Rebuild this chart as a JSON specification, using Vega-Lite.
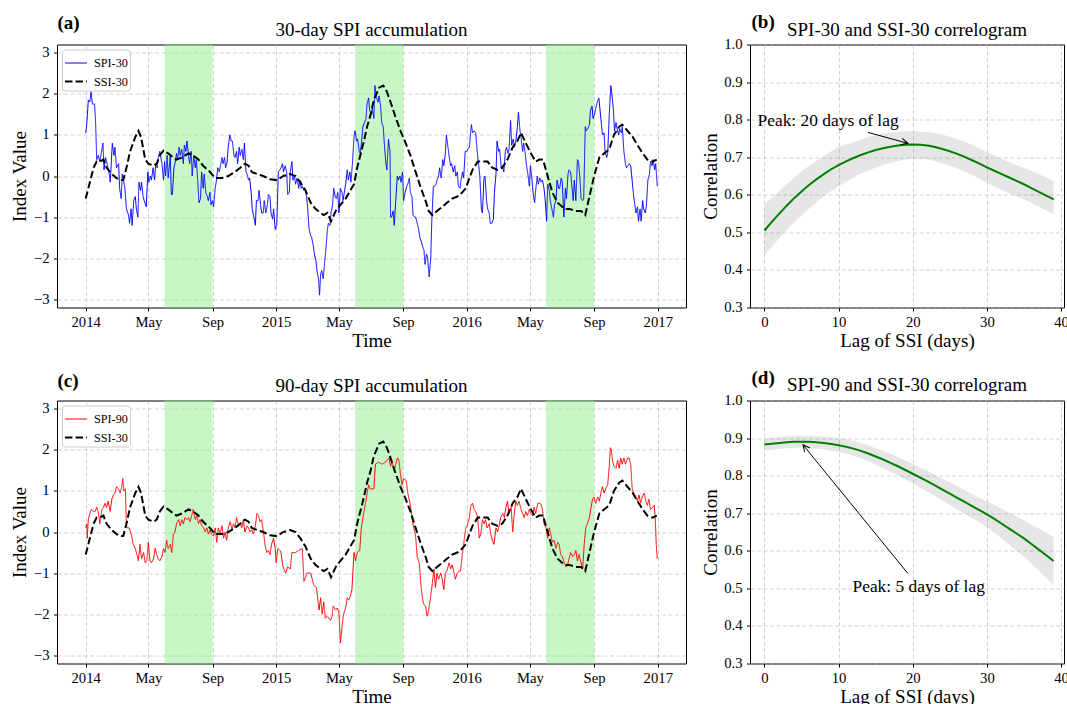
{
"$schema": "https://vega.github.io/schema/vega-lite/v6.json",
"background": "white",
"padding": {"left": 9, "top": 12.5, "right": 0, "bottom": 0},
"config": {
 "font": "Liberation Serif",
 "view": {"stroke": "#000000", "strokeWidth": 1},
 "axis": {"domain": false, "ticks": true, "tickColor": "#000000", "tickSize": 3.5, "labelFont": "Liberation Serif", "labelFontSize": 14.7, "labelColor": "#000000", "labelOverlap": false, "titleFont": "Liberation Serif", "titleFontSize": 19, "titleFontWeight": "normal", "titleColor": "#000000", "grid": true, "gridColor": "#b0b0b0", "gridDash": [4, 2.5], "gridOpacity": 0.7, "gridWidth": 0.8},
 "text": {"font": "Liberation Serif", "color": "#000000"},
 "legend": {"orient": "top-left", "offset": 5, "fillColor": "#ffffff", "strokeColor": "#cccccc", "cornerRadius": 3, "padding": 2, "rowPadding": -4, "labelFont": "Liberation Serif", "labelFontSize": 12.2, "labelColor": "#000000", "symbolType": "stroke", "symbolSize": 484, "labelOffset": 6}
},
"datasets": {
 "summer": [{"day": 151, "end": 243}, {"day": 516, "end": 608}, {"day": 882, "end": 974}],
 "spi30": [
{"day":0,"value":1.05},{"day":2,"value":1.25},{"day":5,"value":1.85},{"day":8,"value":1.8},{"day":10,"value":2.05},{"day":13,"value":1.75},{"day":17,"value":1.75},{"day":19,"value":1.3},{"day":21,"value":0.4},{"day":24,"value":0.5},{"day":27,"value":0.35},{"day":31,"value":0.65},{"day":33,"value":0.8},{"day":35,"value":0.15},{"day":38,"value":0.45},{"day":42,"value":0.25},{"day":45,"value":0.05},{"day":47,"value":-0.15},{"day":51,"value":0.8},{"day":54,"value":0.5},{"day":56,"value":0.7},{"day":59,"value":0.2},{"day":63,"value":0.3},{"day":65,"value":-0.3},{"day":68,"value":-0.55},{"day":70,"value":0.05},{"day":73,"value":-0.15},{"day":75,"value":-0.3},{"day":78,"value":-0.8},{"day":82,"value":-0.95},{"day":84,"value":-1.15},{"day":87,"value":-0.8},{"day":89,"value":-1.2},{"day":92,"value":-0.6},{"day":95,"value":-0.5},{"day":97,"value":-0.8},{"day":100,"value":-1.0},{"day":102,"value":-0.15},{"day":105,"value":-0.35},{"day":107,"value":-0.15},{"day":110,"value":-0.5},{"day":112,"value":-0.6},{"day":116,"value":-0.75},{"day":119,"value":0.1},{"day":121,"value":-0.15},{"day":124,"value":0.0},{"day":126,"value":-0.1},{"day":129,"value":0.2},{"day":132,"value":-0.1},{"day":134,"value":0.3},{"day":137,"value":0.2},{"day":139,"value":0.45},{"day":142,"value":0.6},{"day":146,"value":0.3},{"day":149,"value":-0.1},{"day":151,"value":0.35},{"day":153,"value":0.0},{"day":156,"value":0.5},{"day":158,"value":-0.05},{"day":162,"value":0.5},{"day":164,"value":-0.45},{"day":166,"value":-0.45},{"day":169,"value":0.2},{"day":171,"value":0.3},{"day":174,"value":0.55},{"day":176,"value":0.4},{"day":179,"value":0.7},{"day":181,"value":0.5},{"day":184,"value":0.65},{"day":187,"value":0.3},{"day":189,"value":0.75},{"day":192,"value":0.6},{"day":194,"value":0.85},{"day":197,"value":0.5},{"day":199,"value":0.3},{"day":202,"value":0.6},{"day":204,"value":0.0},{"day":207,"value":0.5},{"day":210,"value":0.2},{"day":212,"value":0.4},{"day":215,"value":-0.2},{"day":217,"value":-0.65},{"day":220,"value":-0.55},{"day":222,"value":0.1},{"day":225,"value":-0.3},{"day":227,"value":0.05},{"day":230,"value":-0.4},{"day":233,"value":-0.5},{"day":235,"value":-0.6},{"day":238,"value":-0.4},{"day":240,"value":-0.7},{"day":243,"value":-0.6},{"day":245,"value":-0.75},{"day":248,"value":-0.3},{"day":250,"value":-0.15},{"day":253,"value":0.2},{"day":256,"value":0.1},{"day":258,"value":0.25},{"day":261,"value":0.45},{"day":263,"value":0.3},{"day":266,"value":0.45},{"day":268,"value":0.2},{"day":271,"value":0.35},{"day":273,"value":0.7},{"day":276,"value":1.0},{"day":279,"value":0.85},{"day":281,"value":0.85},{"day":284,"value":0.5},{"day":286,"value":0.45},{"day":289,"value":0.6},{"day":291,"value":0.3},{"day":294,"value":0.7},{"day":296,"value":0.5},{"day":299,"value":0.65},{"day":302,"value":0.4},{"day":304,"value":0.8},{"day":307,"value":0.1},{"day":309,"value":0.05},{"day":312,"value":-0.1},{"day":314,"value":-0.05},{"day":317,"value":-0.4},{"day":319,"value":-0.8},{"day":322,"value":-1.0},{"day":325,"value":-1.2},{"day":327,"value":-0.6},{"day":330,"value":-0.6},{"day":332,"value":-0.35},{"day":335,"value":-0.7},{"day":337,"value":-0.9},{"day":340,"value":-0.9},{"day":342,"value":-0.6},{"day":345,"value":-0.9},{"day":348,"value":-0.7},{"day":350,"value":-0.45},{"day":353,"value":-0.5},{"day":355,"value":-0.9},{"day":358,"value":-1.05},{"day":360,"value":-0.8},{"day":363,"value":-1.3},{"day":366,"value":-1.2},
{"day":369,"value":0.1},{"day":372,"value":0.15},{"day":374,"value":0.2},{"day":377,"value":0.3},{"day":379,"value":0.1},{"day":382,"value":0.25},{"day":385,"value":0.1},{"day":387,"value":-0.45},{"day":390,"value":-0.4},{"day":392,"value":0.1},{"day":395,"value":0.35},{"day":397,"value":-0.1},{"day":400,"value":0.0},{"day":402,"value":-0.2},{"day":405,"value":-0.05},{"day":408,"value":-0.3},{"day":410,"value":-0.1},{"day":413,"value":-0.3},{"day":415,"value":-0.25},{"day":418,"value":-0.35},{"day":420,"value":-0.3},{"day":423,"value":-0.5},{"day":425,"value":-0.75},{"day":428,"value":-1.3},{"day":431,"value":-1.45},{"day":433,"value":-1.5},{"day":436,"value":-1.7},{"day":438,"value":-1.9},{"day":441,"value":-2.05},{"day":443,"value":-2.3},{"day":446,"value":-2.5},{"day":448,"value":-2.9},{"day":450,"value":-2.4},{"day":452,"value":-2.3},{"day":455,"value":-2.5},{"day":457,"value":-2.2},{"day":460,"value":-1.8},{"day":463,"value":-1.3},{"day":465,"value":-1.15},{"day":468,"value":-1.2},{"day":470,"value":-0.9},{"day":473,"value":-0.7},{"day":475,"value":-0.3},{"day":478,"value":-0.5},{"day":480,"value":-0.55},{"day":483,"value":-0.4},{"day":485,"value":-0.9},{"day":488,"value":-0.3},{"day":491,"value":-0.4},{"day":493,"value":-0.6},{"day":496,"value":-0.35},{"day":498,"value":-0.2},{"day":501,"value":0.15},{"day":503,"value":-0.1},{"day":506,"value":0.1},{"day":508,"value":-0.15},{"day":511,"value":0.3},{"day":514,"value":0.95},{"day":516,"value":1.1},{"day":519,"value":0.85},{"day":521,"value":0.9},{"day":524,"value":0.6},{"day":526,"value":0.55},{"day":529,"value":0.9},{"day":531,"value":1.2},{"day":534,"value":1.3},{"day":537,"value":1.4},{"day":539,"value":1.75},{"day":542,"value":1.9},{"day":544,"value":1.6},{"day":547,"value":1.5},{"day":549,"value":1.65},{"day":552,"value":1.4},{"day":554,"value":2.2},{"day":557,"value":1.9},{"day":560,"value":1.8},{"day":562,"value":1.95},{"day":565,"value":1.7},{"day":567,"value":1.3},{"day":570,"value":1.2},{"day":572,"value":0.8},{"day":575,"value":0.3},{"day":577,"value":0.15},{"day":580,"value":0.9},{"day":583,"value":0.6},{"day":584,"value":-1.0},{"day":586,"value":-1.0},{"day":589,"value":-0.85},{"day":591,"value":-1.2},{"day":594,"value":-0.6},{"day":597,"value":0.0},{"day":599,"value":-0.1},{"day":602,"value":0.0},{"day":604,"value":-0.15},{"day":607,"value":0.1},{"day":609,"value":-0.6},{"day":612,"value":-0.4},{"day":615,"value":-0.25},{"day":617,"value":-0.2},{"day":620,"value":-0.05},{"day":622,"value":-0.4},{"day":625,"value":-0.5},{"day":627,"value":-0.95},{"day":630,"value":-1.0},{"day":632,"value":-1.0},{"day":635,"value":-1.15},{"day":638,"value":-1.3},{"day":640,"value":-1.5},{"day":643,"value":-1.6},{"day":645,"value":-1.7},{"day":648,"value":-1.8},{"day":650,"value":-2.15},{"day":653,"value":-1.9},{"day":655,"value":-2.0},{"day":658,"value":-2.45},{"day":661,"value":-2.0},{"day":663,"value":-1.1},{"day":666,"value":-0.25},{"day":668,"value":-0.25},{"day":671,"value":-0.2},{"day":673,"value":-0.1},{"day":676,"value":0.0},{"day":678,"value":0.2},{"day":681,"value":-0.05},{"day":684,"value":0.4},{"day":686,"value":0.25},{"day":689,"value":0.55},{"day":691,"value":1.0},{"day":694,"value":0.7},{"day":696,"value":0.5},{"day":699,"value":0.25},{"day":701,"value":0.3},{"day":704,"value":0.1},{"day":707,"value":0.25},{"day":709,"value":0.0},{"day":712,"value":0.1},{"day":714,"value":-0.25},{"day":717,"value":-0.3},{"day":719,"value":-0.1},{"day":722,"value":0.1},{"day":724,"value":-0.05},{"day":727,"value":0.6},{"day":730,"value":0.6},{"day":732,"value":0.65},{"day":735,"value":0.7},{"day":737,"value":1.0},
{"day":739,"value":1.25},{"day":741,"value":1.05},{"day":744,"value":1.1},{"day":747,"value":1.05},{"day":750,"value":0.6},{"day":752,"value":0.35},{"day":755,"value":0.0},{"day":758,"value":-0.8},{"day":760,"value":-0.9},{"day":763,"value":-0.05},{"day":765,"value":0.0},{"day":768,"value":-0.6},{"day":770,"value":-0.8},{"day":773,"value":-0.9},{"day":775,"value":-1.15},{"day":778,"value":-1.15},{"day":781,"value":-1.05},{"day":783,"value":-0.4},{"day":786,"value":0.05},{"day":788,"value":0.85},{"day":791,"value":0.6},{"day":793,"value":0.65},{"day":796,"value":0.2},{"day":798,"value":0.25},{"day":801,"value":0.1},{"day":804,"value":0.6},{"day":806,"value":0.7},{"day":809,"value":0.55},{"day":811,"value":0.65},{"day":814,"value":1.35},{"day":816,"value":0.75},{"day":819,"value":0.9},{"day":821,"value":0.7},{"day":824,"value":0.85},{"day":827,"value":1.2},{"day":829,"value":1.55},{"day":832,"value":1.1},{"day":834,"value":0.95},{"day":837,"value":0.6},{"day":839,"value":0.8},{"day":842,"value":0.55},{"day":844,"value":0.3},{"day":847,"value":0.05},{"day":850,"value":-0.25},{"day":852,"value":0.25},{"day":855,"value":-0.1},{"day":857,"value":-0.4},{"day":860,"value":-0.65},{"day":862,"value":-0.35},{"day":865,"value":0.0},{"day":867,"value":-0.2},{"day":870,"value":-0.05},{"day":873,"value":-0.15},{"day":875,"value":-0.1},{"day":878,"value":-0.3},{"day":880,"value":-0.55},{"day":883,"value":-1.1},{"day":885,"value":-0.2},{"day":888,"value":-0.35},{"day":890,"value":-0.6},{"day":893,"value":-0.8},{"day":896,"value":-1.0},{"day":898,"value":-0.7},{"day":901,"value":-0.6},{"day":903,"value":-0.1},{"day":906,"value":-0.3},{"day":908,"value":-0.3},{"day":911,"value":-0.05},{"day":913,"value":-0.15},{"day":916,"value":-1.0},{"day":919,"value":-0.3},{"day":921,"value":-0.55},{"day":924,"value":0.05},{"day":926,"value":0.15},{"day":929,"value":0.1},{"day":931,"value":-0.2},{"day":934,"value":-0.6},{"day":936,"value":-0.1},{"day":939,"value":-0.6},{"day":942,"value":0.4},{"day":944,"value":0.35},{"day":947,"value":-0.1},{"day":949,"value":-0.55},{"day":952,"value":-0.6},{"day":954,"value":-0.55},{"day":957,"value":1.2},{"day":959,"value":1.1},{"day":962,"value":1.15},{"day":965,"value":1.25},{"day":967,"value":1.6},{"day":970,"value":1.7},{"day":972,"value":1.4},{"day":975,"value":1.5},{"day":977,"value":1.65},{"day":980,"value":1.8},{"day":983,"value":1.9},{"day":985,"value":1.65},{"day":988,"value":1.25},{"day":990,"value":1.0},{"day":993,"value":1.05},{"day":995,"value":0.6},{"day":998,"value":0.45},{"day":1000,"value":0.55},{"day":1003,"value":1.5},{"day":1006,"value":2.2},{"day":1008,"value":2.0},{"day":1011,"value":1.6},{"day":1013,"value":1.1},{"day":1016,"value":1.3},{"day":1018,"value":1.15},{"day":1021,"value":1.0},{"day":1023,"value":1.15},{"day":1026,"value":1.05},{"day":1028,"value":1.2},{"day":1031,"value":0.6},{"day":1034,"value":0.3},{"day":1036,"value":0.2},{"day":1039,"value":0.25},{"day":1041,"value":0.3},{"day":1044,"value":0.25},{"day":1046,"value":0.0},{"day":1049,"value":-0.4},{"day":1051,"value":-0.6},{"day":1054,"value":-0.9},{"day":1057,"value":-0.75},{"day":1059,"value":-1.1},{"day":1062,"value":-0.8},{"day":1064,"value":-1.1},{"day":1067,"value":-0.6},{"day":1069,"value":-0.8},{"day":1072,"value":-0.9},{"day":1074,"value":-0.75},{"day":1077,"value":-0.1},{"day":1080,"value":0.05},{"day":1082,"value":0.35},{"day":1085,"value":0.25},{"day":1087,"value":0.4},{"day":1090,"value":0.15},{"day":1092,"value":0.3},{"day":1095,"value":-0.25}
 ],
 "ssi30": [
{"day":0,"value":-0.55},{"day":8,"value":-0.15},{"day":15,"value":0.2},{"day":21,"value":0.35},{"day":27,"value":0.35},{"day":34,"value":0.4},{"day":40,"value":0.2},{"day":50,"value":0.05},{"day":59,"value":-0.05},{"day":68,"value":-0.1},{"day":72,"value":-0.1},{"day":79,"value":0.25},{"day":85,"value":0.6},{"day":95,"value":0.95},{"day":101,"value":1.1},{"day":106,"value":0.95},{"day":114,"value":0.4},{"day":120,"value":0.3},{"day":130,"value":0.25},{"day":136,"value":0.3},{"day":142,"value":0.5},{"day":149,"value":0.62},{"day":158,"value":0.55},{"day":168,"value":0.45},{"day":174,"value":0.4},{"day":184,"value":0.45},{"day":197,"value":0.55},{"day":206,"value":0.5},{"day":216,"value":0.4},{"day":225,"value":0.25},{"day":238,"value":0.1},{"day":248,"value":-0.05},{"day":261,"value":-0.05},{"day":273,"value":0.0},{"day":286,"value":0.1},{"day":296,"value":0.2},{"day":305,"value":0.3},{"day":312,"value":0.25},{"day":318,"value":0.1},{"day":328,"value":0.05},{"day":340,"value":0.0},{"day":353,"value":-0.08},{"day":366,"value":-0.1},{"day":379,"value":0.0},{"day":392,"value":0.05},{"day":402,"value":0.0},{"day":411,"value":-0.15},{"day":421,"value":-0.35},{"day":431,"value":-0.65},{"day":440,"value":-0.8},{"day":450,"value":-0.9},{"day":456,"value":-0.95},{"day":463,"value":-0.9},{"day":470,"value":-1.1},{"day":479,"value":-0.85},{"day":488,"value":-0.7},{"day":498,"value":-0.55},{"day":507,"value":-0.35},{"day":514,"value":-0.2},{"day":520,"value":0.2},{"day":526,"value":0.5},{"day":533,"value":0.85},{"day":539,"value":1.2},{"day":546,"value":1.5},{"day":552,"value":1.85},{"day":562,"value":2.15},{"day":570,"value":2.2},{"day":577,"value":2.05},{"day":584,"value":1.8},{"day":593,"value":1.45},{"day":603,"value":1.1},{"day":613,"value":0.8},{"day":622,"value":0.5},{"day":632,"value":0.1},{"day":641,"value":-0.25},{"day":651,"value":-0.6},{"day":657,"value":-0.85},{"day":664,"value":-0.95},{"day":673,"value":-0.85},{"day":683,"value":-0.75},{"day":692,"value":-0.65},{"day":702,"value":-0.55},{"day":712,"value":-0.5},{"day":718,"value":-0.45},{"day":728,"value":-0.3},{"day":735,"value":-0.05},{"day":741,"value":0.15},{"day":751,"value":0.35},{"day":760,"value":0.35},{"day":770,"value":0.35},{"day":779,"value":0.2},{"day":789,"value":0.15},{"day":798,"value":0.2},{"day":808,"value":0.4},{"day":818,"value":0.7},{"day":827,"value":0.85},{"day":834,"value":1.05},{"day":843,"value":0.8},{"day":853,"value":0.55},{"day":862,"value":0.35},{"day":869,"value":0.4},{"day":876,"value":0.4},{"day":885,"value":0.0},{"day":894,"value":-0.4},{"day":904,"value":-0.65},{"day":917,"value":-0.8},{"day":926,"value":-0.8},{"day":939,"value":-0.85},{"day":949,"value":-0.85},{"day":957,"value":-0.95},{"day":965,"value":-0.5},{"day":974,"value":0.0},{"day":984,"value":0.45},{"day":993,"value":0.55},{"day":1003,"value":0.65},{"day":1012,"value":1.0},{"day":1022,"value":1.2},{"day":1028,"value":1.25},{"day":1038,"value":1.1},{"day":1048,"value":0.95},{"day":1057,"value":0.75},{"day":1067,"value":0.55},{"day":1076,"value":0.4},{"day":1086,"value":0.35},{"day":1094,"value":0.4}
 ],
 "spi90": [
{"day":0,"value":0.1},{"day":2,"value":0.2},{"day":3,"value":-0.15},{"day":5,"value":0.3},{"day":8,"value":0.45},{"day":11,"value":0.55},{"day":15,"value":0.5},{"day":18,"value":0.5},{"day":21,"value":0.6},{"day":24,"value":0.5},{"day":27,"value":0.2},{"day":31,"value":0.55},{"day":34,"value":0.6},{"day":37,"value":0.7},{"day":40,"value":0.6},{"day":43,"value":0.75},{"day":47,"value":0.5},{"day":50,"value":0.8},{"day":53,"value":0.9},{"day":56,"value":0.95},{"day":59,"value":1.1},{"day":63,"value":1.05},{"day":66,"value":0.95},{"day":69,"value":1.1},{"day":71,"value":1.3},{"day":73,"value":1.0},{"day":76,"value":1.05},{"day":78,"value":0.15},{"day":80,"value":0.1},{"day":83,"value":0.1},{"day":86,"value":0.0},{"day":88,"value":-0.1},{"day":91,"value":-0.3},{"day":95,"value":-0.4},{"day":98,"value":-0.55},{"day":101,"value":-0.7},{"day":104,"value":-0.3},{"day":107,"value":-0.65},{"day":111,"value":-0.5},{"day":114,"value":-0.75},{"day":117,"value":-0.7},{"day":120,"value":-0.25},{"day":123,"value":-0.7},{"day":126,"value":-0.75},{"day":130,"value":-0.65},{"day":133,"value":-0.4},{"day":136,"value":-0.55},{"day":139,"value":-0.65},{"day":142,"value":-0.7},{"day":146,"value":-0.6},{"day":149,"value":-0.4},{"day":152,"value":-0.5},{"day":155,"value":-0.2},{"day":158,"value":-0.4},{"day":162,"value":-0.3},{"day":165,"value":-0.5},{"day":168,"value":-0.05},{"day":171,"value":0.0},{"day":174,"value":0.2},{"day":178,"value":0.3},{"day":181,"value":0.15},{"day":184,"value":0.3},{"day":187,"value":0.2},{"day":190,"value":0.35},{"day":194,"value":0.3},{"day":197,"value":0.35},{"day":200,"value":0.25},{"day":203,"value":0.4},{"day":206,"value":0.55},{"day":210,"value":0.3},{"day":213,"value":0.4},{"day":216,"value":0.2},{"day":219,"value":0.3},{"day":222,"value":0.15},{"day":226,"value":0.1},{"day":229,"value":0.0},{"day":232,"value":0.1},{"day":235,"value":-0.05},{"day":238,"value":0.05},{"day":241,"value":-0.05},{"day":245,"value":-0.1},{"day":248,"value":0.1},{"day":251,"value":-0.25},{"day":254,"value":0.1},{"day":257,"value":-0.05},{"day":261,"value":0.15},{"day":264,"value":-0.15},{"day":267,"value":0.0},{"day":270,"value":-0.2},{"day":273,"value":0.1},{"day":277,"value":0.25},{"day":280,"value":0.05},{"day":283,"value":0.2},{"day":286,"value":0.1},{"day":289,"value":0.35},{"day":293,"value":0.15},{"day":296,"value":0.2},{"day":299,"value":0.1},{"day":302,"value":0.3},{"day":305,"value":0.0},{"day":309,"value":0.15},{"day":312,"value":0.1},{"day":315,"value":0.0},{"day":318,"value":0.05},{"day":321,"value":-0.05},{"day":325,"value":0.15},{"day":328,"value":0.45},{"day":331,"value":0.4},{"day":334,"value":0.25},{"day":337,"value":0.3},{"day":340,"value":0.05},{"day":344,"value":-0.35},{"day":347,"value":-0.5},{"day":350,"value":-0.45},{"day":353,"value":-0.55},{"day":356,"value":-0.3},{"day":360,"value":-0.15},
{"day":363,"value":-0.4},{"day":365,"value":-0.75},{"day":368,"value":-0.4},{"day":372,"value":-0.45},{"day":374,"value":-0.5},{"day":378,"value":-0.85},{"day":383,"value":-1.0},{"day":387,"value":-0.85},{"day":392,"value":-0.9},{"day":395,"value":-0.5},{"day":402,"value":-0.5},{"day":408,"value":-0.45},{"day":415,"value":-0.4},{"day":418,"value":-1.2},{"day":424,"value":-1.0},{"day":431,"value":-1.0},{"day":437,"value":-1.3},{"day":442,"value":-1.35},{"day":447,"value":-1.9},{"day":450,"value":-1.6},{"day":453,"value":-2.0},{"day":456,"value":-1.7},{"day":459,"value":-2.1},{"day":462,"value":-2.05},{"day":466,"value":-2.1},{"day":469,"value":-2.15},{"day":472,"value":-2.05},{"day":474,"value":-1.8},{"day":479,"value":-1.9},{"day":482,"value":-1.85},{"day":485,"value":-1.95},{"day":488,"value":-2.7},{"day":491,"value":-2.3},{"day":494,"value":-2.0},{"day":498,"value":-1.85},{"day":501,"value":-1.6},{"day":504,"value":-1.65},{"day":507,"value":-1.55},{"day":510,"value":-1.4},{"day":514,"value":-0.5},{"day":517,"value":-0.7},{"day":520,"value":-0.5},{"day":525,"value":-0.45},{"day":528,"value":0.1},{"day":533,"value":0.5},{"day":538,"value":0.85},{"day":542,"value":1.15},{"day":545,"value":1.05},{"day":552,"value":1.05},{"day":555,"value":1.65},{"day":561,"value":1.7},{"day":568,"value":1.65},{"day":574,"value":1.7},{"day":581,"value":1.8},{"day":584,"value":1.6},{"day":587,"value":1.7},{"day":591,"value":1.5},{"day":597,"value":1.8},{"day":600,"value":1.75},{"day":603,"value":1.4},{"day":606,"value":1.15},{"day":609,"value":1.3},{"day":614,"value":1.25},{"day":617,"value":0.95},{"day":622,"value":0.65},{"day":627,"value":0.2},{"day":632,"value":-0.1},{"day":635,"value":-0.6},{"day":639,"value":-0.75},{"day":643,"value":-1.4},{"day":647,"value":-1.75},{"day":651,"value":-1.8},{"day":654,"value":-2.05},{"day":657,"value":-1.9},{"day":660,"value":-1.65},{"day":664,"value":-1.25},{"day":667,"value":-0.9},{"day":670,"value":-1.35},{"day":673,"value":-1.0},{"day":676,"value":-1.15},{"day":680,"value":-1.0},{"day":683,"value":-1.15},{"day":686,"value":-1.4},{"day":689,"value":-1.0},{"day":692,"value":-0.95},{"day":696,"value":-0.75},{"day":699,"value":-0.9},{"day":702,"value":-0.8},{"day":705,"value":-0.95},{"day":708,"value":-1.15},{"day":712,"value":-1.0},{"day":715,"value":-0.95},{"day":718,"value":-0.95},{"day":721,"value":-0.6},{"day":724,"value":-0.3},{"day":728,"value":0.1},
{"day":731,"value":0.15},{"day":735,"value":0.35},{"day":738,"value":0.65},{"day":741,"value":0.7},{"day":744,"value":0.55},{"day":747,"value":0.5},{"day":751,"value":0.35},{"day":754,"value":-0.15},{"day":757,"value":-0.05},{"day":760,"value":0.3},{"day":763,"value":0.2},{"day":766,"value":0.3},{"day":769,"value":0.1},{"day":773,"value":0.2},{"day":776,"value":-0.05},{"day":779,"value":-0.2},{"day":782,"value":-0.3},{"day":786,"value":0.1},{"day":789,"value":0.0},{"day":792,"value":0.15},{"day":795,"value":0.35},{"day":799,"value":0.45},{"day":802,"value":0.35},{"day":805,"value":0.6},{"day":808,"value":0.75},{"day":811,"value":0.45},{"day":815,"value":0.6},{"day":818,"value":0.0},{"day":821,"value":0.45},{"day":824,"value":0.75},{"day":827,"value":0.65},{"day":830,"value":0.75},{"day":834,"value":0.55},{"day":837,"value":0.45},{"day":840,"value":0.35},{"day":843,"value":0.5},{"day":846,"value":0.4},{"day":850,"value":0.55},{"day":853,"value":0.45},{"day":856,"value":0.4},{"day":859,"value":0.6},{"day":862,"value":0.45},{"day":866,"value":0.7},{"day":869,"value":0.7},{"day":872,"value":0.68},{"day":875,"value":0.55},{"day":878,"value":0.2},{"day":882,"value":0.1},{"day":885,"value":-0.15},{"day":888,"value":0.1},{"day":891,"value":-0.05},{"day":894,"value":-0.25},{"day":897,"value":-0.2},{"day":901,"value":-0.4},{"day":904,"value":-0.25},{"day":907,"value":-0.3},{"day":910,"value":-0.55},{"day":913,"value":-0.6},{"day":917,"value":-0.75},{"day":920,"value":-0.85},{"day":923,"value":-0.8},{"day":926,"value":-0.65},{"day":929,"value":-0.5},{"day":933,"value":-0.6},{"day":936,"value":-0.55},{"day":939,"value":-0.45},{"day":942,"value":-0.7},{"day":945,"value":-0.55},{"day":949,"value":-0.75},{"day":952,"value":-0.9},{"day":955,"value":-0.3},{"day":958,"value":0.1},{"day":961,"value":0.2},{"day":965,"value":0.35},{"day":968,"value":0.6},{"day":971,"value":0.8},{"day":974,"value":0.85},{"day":977,"value":0.7},{"day":981,"value":0.85},{"day":984,"value":0.75},{"day":987,"value":0.95},{"day":990,"value":1.1},{"day":993,"value":0.95},{"day":996,"value":1.05},{"day":1000,"value":1.15},{"day":1003,"value":1.6},{"day":1005,"value":2.05},{"day":1007,"value":2.0},{"day":1009,"value":1.75},{"day":1012,"value":1.6},{"day":1016,"value":1.55},{"day":1019,"value":1.75},{"day":1022,"value":1.55},{"day":1025,"value":1.8},{"day":1028,"value":1.65},{"day":1031,"value":1.8},{"day":1034,"value":1.65},{"day":1038,"value":1.8},{"day":1041,"value":1.8},{"day":1044,"value":1.65},{"day":1047,"value":1.05},{"day":1050,"value":0.95},{"day":1054,"value":0.85},{"day":1057,"value":0.75},{"day":1060,"value":0.9},{"day":1063,"value":0.7},{"day":1066,"value":0.85},{"day":1070,"value":0.95},{"day":1073,"value":0.75},{"day":1076,"value":0.65},{"day":1079,"value":0.8},{"day":1082,"value":0.55},{"day":1086,"value":0.6},{"day":1089,"value":0.65},{"day":1091,"value":0.35},{"day":1093,"value":-0.3},{"day":1095,"value":-0.65}
 ],
 "corr30": [
{"lag":0,"r":0.505,"lo":0.438,"hi":0.575},{"lag":1,"r":0.528,"lo":0.462,"hi":0.592},{"lag":2,"r":0.55,"lo":0.485,"hi":0.61},{"lag":3,"r":0.571,"lo":0.506,"hi":0.628},{"lag":4,"r":0.591,"lo":0.526,"hi":0.645},{"lag":5,"r":0.609,"lo":0.545,"hi":0.662},{"lag":6,"r":0.626,"lo":0.563,"hi":0.677},{"lag":7,"r":0.641,"lo":0.58,"hi":0.69},{"lag":8,"r":0.655,"lo":0.596,"hi":0.703},{"lag":9,"r":0.668,"lo":0.61,"hi":0.716},{"lag":10,"r":0.679,"lo":0.623,"hi":0.728},{"lag":11,"r":0.689,"lo":0.635,"hi":0.734},{"lag":12,"r":0.698,"lo":0.646,"hi":0.74},{"lag":13,"r":0.706,"lo":0.656,"hi":0.747},{"lag":14,"r":0.713,"lo":0.664,"hi":0.753},{"lag":15,"r":0.719,"lo":0.672,"hi":0.759},{"lag":16,"r":0.724,"lo":0.679,"hi":0.763},{"lag":17,"r":0.728,"lo":0.685,"hi":0.766},{"lag":18,"r":0.731,"lo":0.69,"hi":0.768},{"lag":19,"r":0.733,"lo":0.694,"hi":0.769},{"lag":20,"r":0.734,"lo":0.696,"hi":0.769},{"lag":21,"r":0.733,"lo":0.696,"hi":0.768},{"lag":22,"r":0.731,"lo":0.694,"hi":0.767},{"lag":23,"r":0.727,"lo":0.69,"hi":0.764},{"lag":24,"r":0.722,"lo":0.684,"hi":0.76},{"lag":25,"r":0.716,"lo":0.677,"hi":0.755},{"lag":26,"r":0.709,"lo":0.67,"hi":0.748},{"lag":27,"r":0.701,"lo":0.662,"hi":0.741},{"lag":28,"r":0.692,"lo":0.653,"hi":0.733},{"lag":29,"r":0.683,"lo":0.643,"hi":0.724},{"lag":30,"r":0.673,"lo":0.633,"hi":0.714},{"lag":31,"r":0.664,"lo":0.623,"hi":0.705},{"lag":32,"r":0.655,"lo":0.613,"hi":0.696},{"lag":33,"r":0.646,"lo":0.604,"hi":0.687},{"lag":34,"r":0.637,"lo":0.596,"hi":0.679},{"lag":35,"r":0.628,"lo":0.588,"hi":0.671},{"lag":36,"r":0.618,"lo":0.578,"hi":0.663},{"lag":37,"r":0.608,"lo":0.568,"hi":0.655},{"lag":38,"r":0.598,"lo":0.558,"hi":0.646},{"lag":39,"r":0.588,"lo":0.548,"hi":0.637}
 ],
 "corr90": [
{"lag":0,"r":0.883,"lo":0.867,"hi":0.899},{"lag":1,"r":0.885,"lo":0.869,"hi":0.901},{"lag":2,"r":0.887,"lo":0.871,"hi":0.903},{"lag":3,"r":0.889,"lo":0.873,"hi":0.905},{"lag":4,"r":0.89,"lo":0.874,"hi":0.906},{"lag":5,"r":0.89,"lo":0.874,"hi":0.906},{"lag":6,"r":0.89,"lo":0.874,"hi":0.906},{"lag":7,"r":0.889,"lo":0.872,"hi":0.906},{"lag":8,"r":0.887,"lo":0.87,"hi":0.904},{"lag":9,"r":0.884,"lo":0.866,"hi":0.902},{"lag":10,"r":0.881,"lo":0.863,"hi":0.899},{"lag":11,"r":0.877,"lo":0.858,"hi":0.896},{"lag":12,"r":0.872,"lo":0.852,"hi":0.892},{"lag":13,"r":0.866,"lo":0.846,"hi":0.886},{"lag":14,"r":0.859,"lo":0.838,"hi":0.88},{"lag":15,"r":0.851,"lo":0.829,"hi":0.873},{"lag":16,"r":0.843,"lo":0.82,"hi":0.866},{"lag":17,"r":0.834,"lo":0.81,"hi":0.858},{"lag":18,"r":0.825,"lo":0.801,"hi":0.849},{"lag":19,"r":0.815,"lo":0.79,"hi":0.84},{"lag":20,"r":0.805,"lo":0.779,"hi":0.831},{"lag":21,"r":0.795,"lo":0.768,"hi":0.822},{"lag":22,"r":0.785,"lo":0.757,"hi":0.813},{"lag":23,"r":0.774,"lo":0.746,"hi":0.802},{"lag":24,"r":0.763,"lo":0.734,"hi":0.792},{"lag":25,"r":0.752,"lo":0.722,"hi":0.782},{"lag":26,"r":0.741,"lo":0.71,"hi":0.772},{"lag":27,"r":0.73,"lo":0.698,"hi":0.762},{"lag":28,"r":0.719,"lo":0.687,"hi":0.751},{"lag":29,"r":0.708,"lo":0.675,"hi":0.741},{"lag":30,"r":0.697,"lo":0.663,"hi":0.731},{"lag":31,"r":0.685,"lo":0.648,"hi":0.722},{"lag":32,"r":0.672,"lo":0.632,"hi":0.712},{"lag":33,"r":0.659,"lo":0.617,"hi":0.701},{"lag":34,"r":0.646,"lo":0.601,"hi":0.691},{"lag":35,"r":0.633,"lo":0.585,"hi":0.681},{"lag":36,"r":0.618,"lo":0.566,"hi":0.67},{"lag":37,"r":0.603,"lo":0.547,"hi":0.659},{"lag":38,"r":0.588,"lo":0.528,"hi":0.648},{"lag":39,"r":0.573,"lo":0.509,"hi":0.637}
 ]
},
"columns": 2,
"spacing": {"row": 93, "column": 64},
"bounds": "flush",
"align": "each",
"resolve": {"scale": {"color": "independent", "strokeDash": "independent", "strokeWidth": "independent"}, "legend": {"color": "independent", "strokeDash": "independent", "strokeWidth": "independent"}},
"concat": [
 {
  "width": 629, "height": 263,
  "encoding": {"x": {"field": "day", "type": "quantitative", "title": "Time", "scale": {"domain": [-55, 1150], "nice": false, "zero": false}, "axis": {"values": [0,120,243,365,485,608,730,851,974,1096], "labelExpr": "datum.value == 0 ? '2014' : datum.value == 365 ? '2015' : datum.value == 730 ? '2016' : datum.value == 1096 ? '2017' : (datum.value == 120 || datum.value == 485 || datum.value == 851) ? 'May' : 'Sep'", "labelFlush": false, "labelOverlap": false, "labelFont": "Liberation Serif", "labelPadding": 3, "titlePadding": 2.5}}},
  "layer": [
   {"data": {"name": "summer"}, "mark": {"type": "rect", "color": "#90ee90", "opacity": 0.5}, "encoding": {"x2": {"field": "end"}}},
   {"data": {"name": "spi30"}, "mark": {"type": "line"},
    "encoding": {
     "y": {"field": "value", "type": "quantitative", "title": "Index Value", "scale": {"domain": [-3.2, 3.2], "nice": false, "zero": false}, "axis": {"values": [-3,-2,-1,0,1,2,3], "labelOverlap": false, "labelFont": "Liberation Serif", "labelPadding": 4.5, "titlePadding": 4}},
     "color": {"datum": "SPI-30", "type": "nominal", "scale": {"domain": ["SPI-30", "SSI-30"], "range": ["#0000ff", "#000000"]}, "legend": {"title": null}},
     "strokeDash": {"datum": "SPI-30", "type": "nominal", "scale": {"domain": ["SPI-30", "SSI-30"], "range": [[1, 0], [7.4, 3.2]]}, "legend": {"title": null}},
     "strokeWidth": {"datum": "SPI-30", "type": "nominal", "scale": {"type": "point", "domain": ["SPI-30", "SSI-30"], "range": [1, 2], "padding": 0}, "legend": {"title": null}}}},
   {"data": {"name": "ssi30"}, "mark": {"type": "line"},
    "encoding": {
     "y": {"field": "value", "type": "quantitative", "title": "Index Value"},
     "color": {"datum": "SSI-30", "type": "nominal", "legend": {"title": null}},
     "strokeDash": {"datum": "SSI-30", "type": "nominal", "legend": {"title": null}},
     "strokeWidth": {"datum": "SSI-30", "type": "nominal", "legend": {"title": null}}}},
   {"data": {"values": [{"day": -54, "value": 3.575, "tag": "(a)"}]}, "mark": {"type": "text", "align": "left", "baseline": "alphabetic", "fontSize": 19, "fontWeight": "bold"},
    "encoding": {"y": {"field": "value", "type": "quantitative", "title": "Index Value"}, "text": {"field": "tag"}}},
   {"data": {"values": [{"day": 547.5, "value": 3.41, "tag": "30-day SPI accumulation"}]}, "mark": {"type": "text", "align": "center", "baseline": "alphabetic", "fontSize": 19, "fontWeight": "normal"},
    "encoding": {"y": {"field": "value", "type": "quantitative", "title": "Index Value"}, "text": {"field": "tag"}}}
  ]
 },
 {
  "width": 314, "height": 263,
  "encoding": {"x": {"field": "lag", "type": "quantitative", "title": "Lag of SSI (days)", "scale": {"domain": [-1.95, 40.4], "nice": false, "zero": false}, "axis": {"values": [0,10,20,30,40], "labelFlush": false, "labelOverlap": false, "labelFont": "Liberation Serif", "labelPadding": 3, "titlePadding": 2.5}},
   "y": {"field": "r", "type": "quantitative", "title": "Correlation", "scale": {"domain": [0.3, 1.0], "nice": false, "zero": false}, "axis": {"values": [0.3,0.4,0.5,0.6,0.7,0.8,0.9,1.0], "format": ".1f", "labelOverlap": false, "labelFont": "Liberation Serif", "labelPadding": 4.5, "titlePadding": 3}}},
  "layer": [
   {"data": {"values": [{"lag": 16.7, "lagEnd": 21.8}]}, "mark": {"type": "rect", "color": "#add8e6", "opacity": 0.5}, "encoding": {"x2": {"field": "lagEnd"}, "y": {"datum": 1.0, "type": "quantitative"}, "y2": {"datum": 0.3}}},
   {"data": {"name": "corr30"}, "mark": {"type": "area", "color": "#808080", "opacity": 0.2},
    "encoding": {"y": {"field": "lo", "type": "quantitative", "title": "Correlation"}, "y2": {"field": "hi"}}},
   {"data": {"name": "corr30"}, "mark": {"type": "line", "color": "#008000", "strokeWidth": 2}},
   {"data": {"values": [{"lag": 13.97, "r": 0.766, "lagEnd": 19.35, "rEnd": 0.737}]}, "mark": {"type": "rule", "color": "#000000", "strokeWidth": 1},
    "encoding": {"x2": {"field": "lagEnd"}, "y2": {"field": "rEnd"}}},
   {"data": {"values": [{"lag": 19.35, "r": 0.737}]}, "mark": {"type": "point", "shape": "M-0.5,1L0,0L0.5,1", "size": 185, "angle": 105, "filled": false, "color": "#000000", "strokeWidth": 1, "opacity": 1}},
   {"data": {"values": [{"lag": 8.58, "r": 0.7836, "note": "Peak: 20 days of lag"}]}, "mark": {"type": "text", "align": "center", "baseline": "alphabetic", "fontSize": 17.4},
    "encoding": {"text": {"field": "note"}}},
   {"data": {"values": [{"lag": -1.75, "r": 1.0426, "note": "(b)"}]}, "mark": {"type": "text", "align": "left", "baseline": "alphabetic", "fontSize": 19, "fontWeight": "bold"},
    "encoding": {"text": {"field": "note"}}},
   {"data": {"values": [{"lag": 19.225, "r": 1.023, "note": "SPI-30 and SSI-30 correlogram"}]}, "mark": {"type": "text", "align": "center", "baseline": "alphabetic", "fontSize": 19, "fontWeight": "normal"},
    "encoding": {"text": {"field": "note"}}}
  ]
 },
 {
  "width": 629, "height": 263,
  "encoding": {"x": {"field": "day", "type": "quantitative", "title": "Time", "scale": {"domain": [-55, 1150], "nice": false, "zero": false}, "axis": {"values": [0,120,243,365,485,608,730,851,974,1096], "labelExpr": "datum.value == 0 ? '2014' : datum.value == 365 ? '2015' : datum.value == 730 ? '2016' : datum.value == 1096 ? '2017' : (datum.value == 120 || datum.value == 485 || datum.value == 851) ? 'May' : 'Sep'", "labelFlush": false, "labelOverlap": false, "labelFont": "Liberation Serif", "labelPadding": 3, "titlePadding": 2.5}}},
  "layer": [
   {"data": {"name": "summer"}, "mark": {"type": "rect", "color": "#90ee90", "opacity": 0.5}, "encoding": {"x2": {"field": "end"}}},
   {"data": {"name": "spi90"}, "mark": {"type": "line"},
    "encoding": {
     "y": {"field": "value", "type": "quantitative", "title": "Index Value", "scale": {"domain": [-3.2, 3.2], "nice": false, "zero": false}, "axis": {"values": [-3,-2,-1,0,1,2,3], "labelOverlap": false, "labelFont": "Liberation Serif", "labelPadding": 4.5, "titlePadding": 4}},
     "color": {"datum": "SPI-90", "type": "nominal", "scale": {"domain": ["SPI-90", "SSI-30"], "range": ["#ff0000", "#000000"]}, "legend": {"title": null}},
     "strokeDash": {"datum": "SPI-90", "type": "nominal", "scale": {"domain": ["SPI-90", "SSI-30"], "range": [[1, 0], [7.4, 3.2]]}, "legend": {"title": null}},
     "strokeWidth": {"datum": "SPI-90", "type": "nominal", "scale": {"type": "point", "domain": ["SPI-90", "SSI-30"], "range": [1, 2], "padding": 0}, "legend": {"title": null}}}},
   {"data": {"name": "ssi30"}, "mark": {"type": "line"},
    "encoding": {
     "y": {"field": "value", "type": "quantitative", "title": "Index Value"},
     "color": {"datum": "SSI-30", "type": "nominal", "legend": {"title": null}},
     "strokeDash": {"datum": "SSI-30", "type": "nominal", "legend": {"title": null}},
     "strokeWidth": {"datum": "SSI-30", "type": "nominal", "legend": {"title": null}}}},
   {"data": {"values": [{"day": -54, "value": 3.539, "tag": "(c)"}]}, "mark": {"type": "text", "align": "left", "baseline": "alphabetic", "fontSize": 19, "fontWeight": "bold"},
    "encoding": {"y": {"field": "value", "type": "quantitative", "title": "Index Value"}, "text": {"field": "tag"}}},
   {"data": {"values": [{"day": 547.5, "value": 3.41, "tag": "90-day SPI accumulation"}]}, "mark": {"type": "text", "align": "center", "baseline": "alphabetic", "fontSize": 19, "fontWeight": "normal"},
    "encoding": {"y": {"field": "value", "type": "quantitative", "title": "Index Value"}, "text": {"field": "tag"}}}
  ]
 },
 {
  "width": 314, "height": 263,
  "encoding": {"x": {"field": "lag", "type": "quantitative", "title": "Lag of SSI (days)", "scale": {"domain": [-1.95, 40.4], "nice": false, "zero": false}, "axis": {"values": [0,10,20,30,40], "labelFlush": false, "labelOverlap": false, "labelFont": "Liberation Serif", "labelPadding": 3, "titlePadding": 2.5}},
   "y": {"field": "r", "type": "quantitative", "title": "Correlation", "scale": {"domain": [0.3, 1.0], "nice": false, "zero": false}, "axis": {"values": [0.3,0.4,0.5,0.6,0.7,0.8,0.9,1.0], "format": ".1f", "labelOverlap": false, "labelFont": "Liberation Serif", "labelPadding": 4.5, "titlePadding": 3}}},
  "layer": [
   {"data": {"values": [{"lag": 2.9, "lagEnd": 7.0}]}, "mark": {"type": "rect", "color": "#add8e6", "opacity": 0.5}, "encoding": {"x2": {"field": "lagEnd"}, "y": {"datum": 1.0, "type": "quantitative"}, "y2": {"datum": 0.3}}},
   {"data": {"name": "corr90"}, "mark": {"type": "area", "color": "#808080", "opacity": 0.2},
    "encoding": {"y": {"field": "lo", "type": "quantitative", "title": "Correlation"}, "y2": {"field": "hi"}}},
   {"data": {"name": "corr90"}, "mark": {"type": "line", "color": "#008000", "strokeWidth": 2}},
   {"data": {"values": [{"lag": 19.35, "r": 0.5395, "lagEnd": 5.2, "rEnd": 0.882}]}, "mark": {"type": "rule", "color": "#000000", "strokeWidth": 1},
    "encoding": {"x2": {"field": "lagEnd"}, "y2": {"field": "rEnd"}}},
   {"data": {"values": [{"lag": 5.2, "r": 0.882}]}, "mark": {"type": "point", "shape": "M-0.5,1L0,0L0.5,1", "size": 185, "angle": 321, "filled": false, "color": "#000000", "strokeWidth": 1, "opacity": 1}},
   {"data": {"values": [{"lag": 20.8, "r": 0.4916, "note": "Peak: 5 days of lag"}]}, "mark": {"type": "text", "align": "center", "baseline": "alphabetic", "fontSize": 17.4},
    "encoding": {"text": {"field": "note"}}},
   {"data": {"values": [{"lag": -1.75, "r": 1.0434, "note": "(d)"}]}, "mark": {"type": "text", "align": "left", "baseline": "alphabetic", "fontSize": 19, "fontWeight": "bold"},
    "encoding": {"text": {"field": "note"}}},
   {"data": {"values": [{"lag": 19.225, "r": 1.024, "note": "SPI-90 and SSI-30 correlogram"}]}, "mark": {"type": "text", "align": "center", "baseline": "alphabetic", "fontSize": 19, "fontWeight": "normal"},
    "encoding": {"text": {"field": "note"}}}
  ]
 }
]
}
